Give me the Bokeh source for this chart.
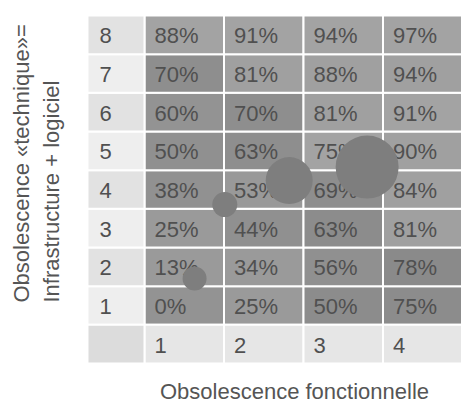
import numpy as np
from bokeh.plotting import figure
from bokeh.models import ColumnDataSource, Label
from bokeh.core.properties import value
from bokeh.embed import file_html
from bokeh.resources import INLINE

# --- data -------------------------------------------------------------
func_levels = [1, 2, 3, 4]             # obsolescence fonctionnelle
tech_levels = [1, 2, 3, 4, 5, 6, 7, 8]  # obsolescence technique
# percentage per (technical row, functional column)
pct = [
    [0, 25, 50, 75],
    [13, 34, 56, 78],
    [25, 44, 63, 81],
    [38, 53, 69, 84],
    [50, 63, 75, 90],
    [60, 70, 81, 91],
    [70, 81, 88, 94],
    [88, 91, 94, 97],
]
# positioned items (functional score, technical score, weight)
item_func = [1.13, 1.51, 2.32, 3.30]
item_tech = [1.70, 3.61, 4.23, 4.58]
item_weight = [24, 25, 47, 63]

# --- styling ----------------------------------------------------------
shade = [
    ["#939393", "#9a9a9a", "#8c8c8c", "#8c8c8c"],
    ["#9a9a9a", "#9a9a9a", "#909090", "#8a8a8a"],
    ["#9a9a9a", "#909090", "#8c8c8c", "#a0a0a0"],
    ["#919191", "#999999", "#8e8e8e", "#a0a0a0"],
    ["#909090", "#8e8e8e", "#a3a3a3", "#a0a0a0"],
    ["#939393", "#8e8e8e", "#a0a0a0", "#a3a3a3"],
    ["#8e8e8e", "#a0a0a0", "#a0a0a0", "#a0a0a0"],
    ["#a3a3a3", "#a3a3a3", "#a3a3a3", "#a3a3a3"],
]
FONT = value("Liberation Sans")
TXT = "#505050"
TITLE = "#555555"

# the frame fills the whole canvas; the table sits inside it
X_START, X_END = -1.311, 4.487
Y_START, Y_END = -1.534, 8.888
X0 = -0.217   # left edge of the row-label column

p = figure(width=461, height=403, output_backend="svg", toolbar_location=None,
           x_range=(X_START, X_END), y_range=(Y_START, Y_END),
           x_axis_type=None, y_axis_type=None, min_border=0,
           min_border_left=0, min_border_right=0,
           min_border_top=0, min_border_bottom=0)
p.outline_line_color = None
p.background_fill_color = "white"
p.border_fill_color = "white"

# heat-map cells
cx, cy, cc, ct = [], [], [], []
for ri, r in enumerate(tech_levels):
    for ci, c in enumerate(func_levels):
        cx.append(c)
        cy.append(r)
        cc.append(shade[ri][ci])
        ct.append(f"{pct[ri][ci]}%")
cells = ColumnDataSource(dict(left=[x - 0.5 for x in cx], right=[x + 0.5 for x in cx],
                              bottom=[y - 0.5 for y in cy], top=[y + 0.5 for y in cy],
                              color=cc, label=ct, x=[x - 0.5 for x in cx], y=cy))
p.quad(left="left", right="right", bottom="bottom", top="top", source=cells,
       fill_color="color", line_color="white", line_width=2)

# row-label column (alternating light shades)
row_fill = ["#eeeeee" if r % 2 else "#e2e2e2" for r in tech_levels]
p.quad(left=X0, right=0.5, bottom=[r - 0.5 for r in tech_levels],
       top=[r + 0.5 for r in tech_levels], fill_color=row_fill,
       line_color="white", line_width=2)
# bottom header row
p.quad(left=[c - 0.5 for c in func_levels], right=[c + 0.5 for c in func_levels],
       bottom=-0.5, top=0.5, fill_color="#e6e6e6", line_color="white", line_width=2)
p.quad(left=X0, right=0.5, bottom=-0.5, top=0.5, fill_color="#dcdcdc",
       line_color="white", line_width=2)

# cell percentages
p.text(x="x", y="y", text="label", source=cells, x_offset=10, y_offset=1,
       text_font=FONT, text_font_size="22px", text_color=TXT,
       text_align="left", text_baseline="middle")
# row and column headers
p.text(x=[X0] * len(tech_levels), y=tech_levels, text=[str(r) for r in tech_levels],
       x_offset=12, y_offset=1, text_font=FONT, text_font_size="22px", text_color=TXT,
       text_align="left", text_baseline="middle")
p.text(x=[c - 0.5 for c in func_levels], y=[0] * len(func_levels),
       text=[str(c) for c in func_levels], x_offset=10, y_offset=1,
       text_font=FONT, text_font_size="22px", text_color=TXT,
       text_align="left", text_baseline="middle")

# items
p.scatter(x=item_func, y=item_tech, size=item_weight, marker="circle",
          fill_color="#7e7e7e", line_color=None)

# axis titles (screen offsets from the canvas' bottom-left corner)
p.add_layout(Label(x=294, y=25, x_units="screen", y_units="screen",
                   text="Obsolescence fonctionnelle", text_font="Liberation Sans",
                   text_font_size="22px", text_color=TITLE,
                   text_align="center", text_baseline="top"))
p.add_layout(Label(x=21, y=101, x_units="screen", y_units="screen", angle=np.pi / 2,
                   text="Obsolescence «technique»=", text_font="Liberation Sans",
                   text_font_size="22px", text_color=TITLE,
                   text_align="left", text_baseline="middle"))
p.add_layout(Label(x=51, y=101, x_units="screen", y_units="screen", angle=np.pi / 2,
                   text="Infrastructure + logiciel", text_font="Liberation Sans",
                   text_font_size="22px", text_color=TITLE,
                   text_align="left", text_baseline="middle"))

open("out.html", "w").write(file_html(p, INLINE))
